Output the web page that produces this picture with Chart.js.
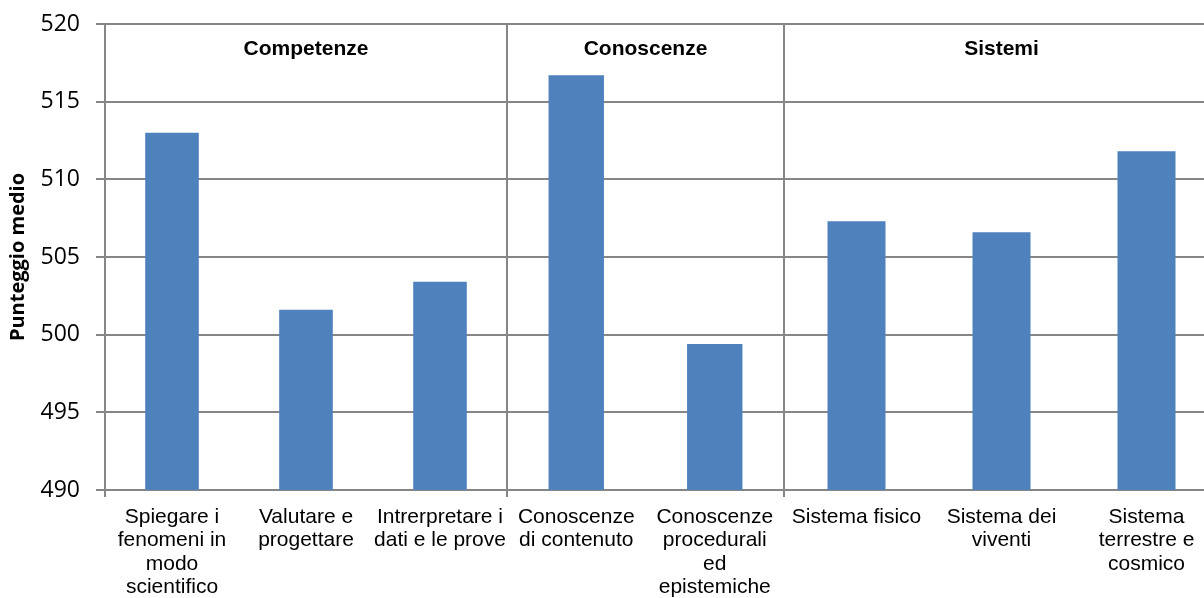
<!DOCTYPE html>
<html>
<head>
<meta charset="utf-8">
<script src="https://cdn.jsdelivr.net/npm/chart.js@4/dist/chart.umd.min.js"></script>
<style>
  html, body { margin: 0; padding: 0; background: #fff; overflow: hidden; }
  #wrap { width: 1240px; height: 598px; position: relative; }
</style>
</head>
<body>
<div id="wrap"><canvas id="chart"></canvas></div>
<script>
// Dati del grafico
const groups = ["Competenze", "Conoscenze", "Sistemi"]

const competenzeLabels = [["Spiegare i", "fenomeni in", "modo", "scientifico"], ["Valutare e", "progettare"], ["Intrerpretare i", "dati e le prove"]]
const competenzeValues = [513.0, 501.6, 503.4]

const conoscenzeLabels = [["Conoscenze", "di contenuto"], ["Conoscenze", "procedurali", "ed", "epistemiche"]]
const conoscenzeValues = [516.7, 499.4]

const sistemiLabels = [["Sistema fisico"], ["Sistema dei", "viventi"], ["Sistema", "terrestre e", "cosmico"]]
const sistemiValues = [507.3, 506.6, 511.8]

const yMin = 490
const yMax = 520
const yStep = 5

const GRID = "#868686"
const BAR = "#4F81BD"

// Asse x per ogni gruppo, affiancati nello stesso "stack"
function groupAxis(labels, weight) {
  return {
    type: "category",
    position: "bottom",
    stack: "gruppi",
    stackWeight: weight,
    labels: labels,
    offset: true,
    afterFit: (scale) => {
      scale.paddingLeft = 0
      scale.paddingRight = 0
      scale.height = 108
    },
    grid: {
      offset: true,
      drawOnChartArea: true,
      color: (ctx) => (ctx.index === 0 ? GRID : "transparent"),
      lineWidth: 2,
      tickLength: 7,
    },
    border: { color: GRID, width: 2 },
    ticks: {
      color: "#000",
      padding: 8,
      autoSkip: false,
      maxRotation: 0,
      minRotation: 0,
      font: { family: "'Liberation Sans', Arial, sans-serif", size: 21, lineHeight: 1.12 },
    },
  }
}

// Titoli dei gruppi in alto
const groupTitles = {
  id: "groupTitles",
  afterDatasetsDraw(chart) {
    const ctx = chart.ctx
    ctx.save()
    ctx.font = "bold 21px 'Liberation Sans', Arial, sans-serif"
    ctx.fillStyle = "#000"
    ctx.textAlign = "center"
    ctx.textBaseline = "middle"
    ;["x1", "x2", "x3"].forEach((id, i) => {
      const s = chart.scales[id]
      ctx.fillText(groups[i], (s.left + s.right) / 2, chart.chartArea.top + 25)
    })
    ctx.restore()
  },
}

new Chart(document.getElementById("chart"), {
  type: "bar",
  data: {
    datasets: [
      { data: competenzeValues, xAxisID: "x1", yAxisID: "y", backgroundColor: BAR, grouped: false },
      { data: conoscenzeValues, xAxisID: "x2", yAxisID: "y", backgroundColor: BAR, grouped: false },
      { data: sistemiValues, xAxisID: "x3", yAxisID: "y", backgroundColor: BAR, grouped: false },
    ],
  },
  options: {
    responsive: true,
    maintainAspectRatio: false,
    animation: false,
    categoryPercentage: 1,
    barPercentage: 0.4,
    layout: { padding: { top: 24, right: 21, bottom: 0, left: 0 } },
    plugins: { legend: { display: false }, tooltip: { enabled: false } },
    scales: {
      x1: groupAxis(competenzeLabels, 402),
      x2: groupAxis(conoscenzeLabels, 277),
      x3: groupAxis(sistemiLabels, 435),
      y: {
        position: "left",
        min: yMin,
        max: yMax,
        afterFit: (scale) => {
          scale.width = 105
          scale.paddingTop = 0
          scale.paddingBottom = 0
        },
        ticks: {
          stepSize: yStep,
          color: "#000",
          padding: 16,
          font: { family: "'Open Sans', sans-serif", size: 23 },
        },
        grid: { color: GRID, lineWidth: 2, tickLength: 9 },
        border: { color: GRID, width: 2 },
        title: {
          display: true,
          text: "Punteggio medio",
          color: "#000",
          padding: { top: 6, bottom: 0 },
          font: { family: "'Open Sans', sans-serif", size: 20, weight: "bold" },
        },
      },
    },
  },
  plugins: [groupTitles],
})
</script>
</body>
</html>
